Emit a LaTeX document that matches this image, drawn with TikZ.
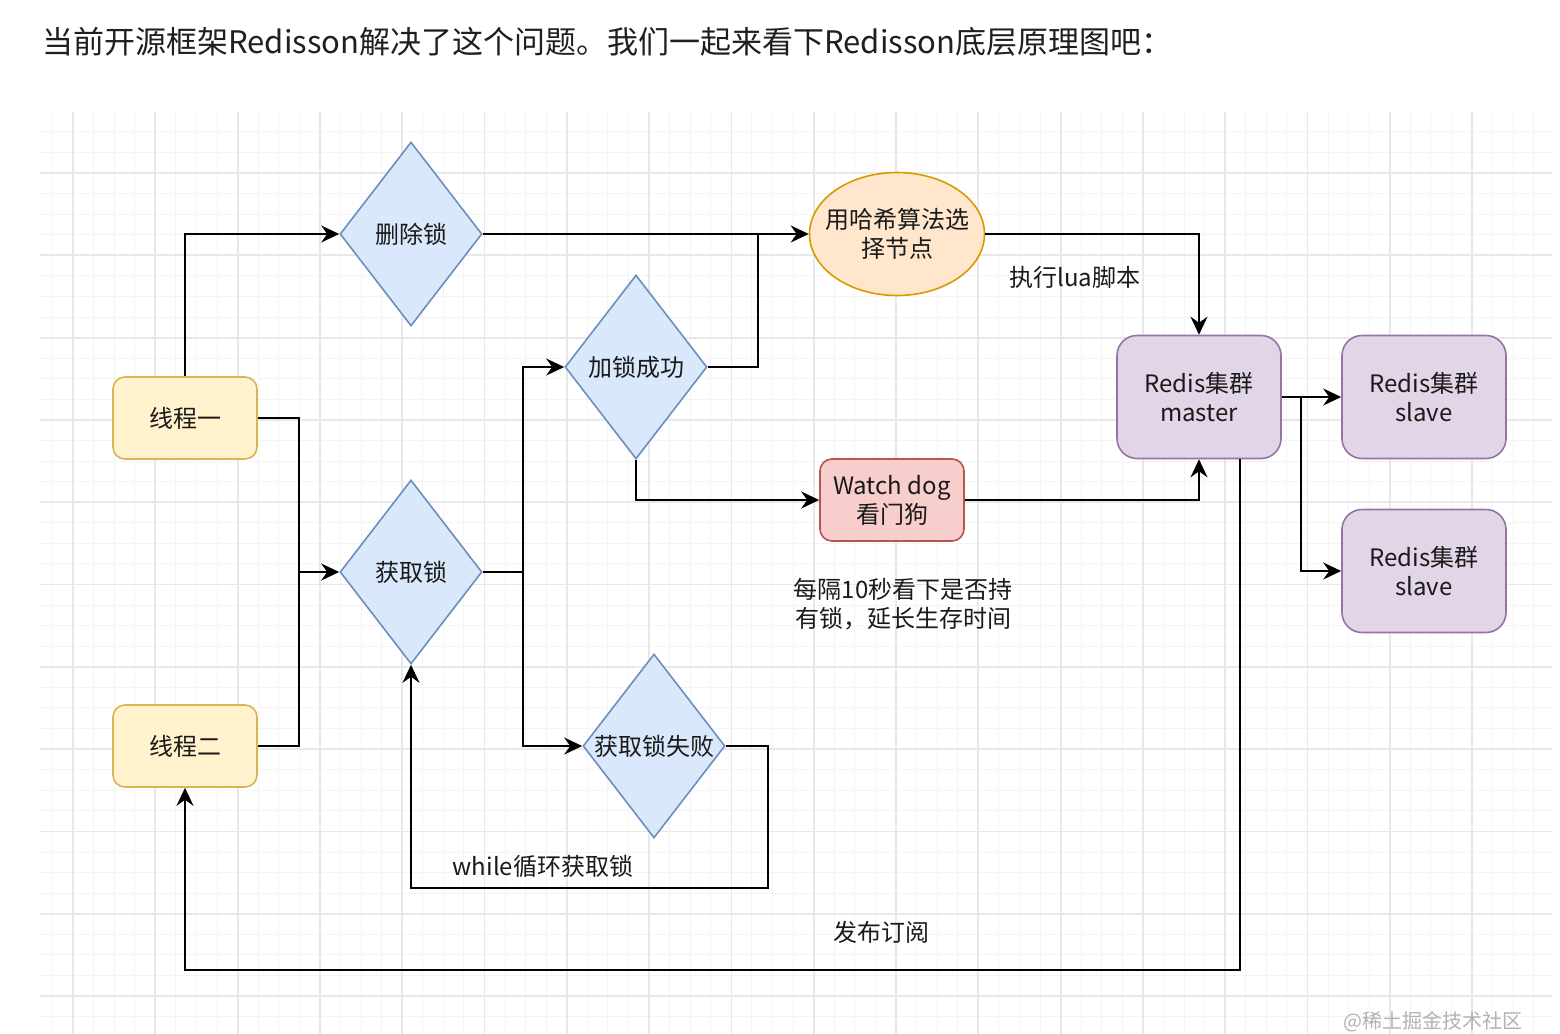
\documentclass[tikz,border=0pt]{standalone}
\usepackage{fontspec}
\setmainfont{Noto Sans CJK SC}
\usetikzlibrary{arrows.meta,shapes.geometric,calc}
\definecolor{yelf}{HTML}{FFF2CC}\definecolor{yeld}{HTML}{D6B656}
\definecolor{bluf}{HTML}{DAE8FC}\definecolor{blud}{HTML}{6C8EBF}
\definecolor{orgf}{HTML}{FFE6CC}\definecolor{orgd}{HTML}{D79B00}
\definecolor{redf}{HTML}{F8CECC}\definecolor{redd}{HTML}{B85450}
\definecolor{purf}{HTML}{E1D5E7}\definecolor{purd}{HTML}{9673A6}
\definecolor{gridminor}{HTML}{F4F4F4}\definecolor{gridmajor}{HTML}{E8E8E8}
\definecolor{txt}{HTML}{1A1A1A}
\begin{document}
\begin{tikzpicture}[x=0.5pt,y=-0.5pt,
  every node/.style={text=txt,font=\fontsize{12}{14.5}\selectfont,align=center},
  every label/.style={text=txt,font=\fontsize{12}{14.5}\selectfont,align=center,inner sep=0pt},
  flow/.style={line width=1pt,draw=black,-{Stealth[length=9pt,width=8.5pt,inset=3pt]}},
  plain/.style={line width=1pt,draw=black},
  threadbox/.style={rectangle,rounded corners=6pt,fill=yelf,draw=yeld,line width=0.8pt,minimum width=72pt,minimum height=41pt,inner sep=0pt},
  decide/.style={diamond,fill=bluf,draw=blud,line width=0.8pt,minimum width=71pt,minimum height=92pt,inner sep=0pt},
  hashnode/.style={ellipse,fill=orgf,draw=orgd,line width=0.8pt,minimum width=87.5pt,minimum height=61.5pt,inner sep=0pt},
  dogbox/.style={rectangle,rounded corners=6pt,fill=redf,draw=redd,line width=0.8pt,minimum width=72pt,minimum height=41pt,inner sep=0pt},
  redisbox/.style={rectangle,rounded corners=10pt,fill=purf,draw=purd,line width=0.8pt,minimum width=82pt,minimum height=61.5pt,inner sep=0pt},
  lbl/.style={inner sep=0pt}
]
\useasboundingbox (0,0) rectangle (1560,1034);
\fill[white] (0,0) rectangle (1560,1034);
% grid
\begin{scope}
\clip (40,112) rectangle (1552,1034);
\foreach \i in {0,...,73} {\draw[gridminor,line width=0.5pt] ({52.4+20.575*\i},112) -- ({52.4+20.575*\i},1034);}
\foreach \i in {0,...,45} {\draw[gridminor,line width=0.5pt] (40,{111.3+20.575*\i}) -- (1552,{111.3+20.575*\i});}
\foreach \j in {0,...,18} {\draw[gridmajor,line width=0.9pt] ({73+82.3*\j},112) -- ({73+82.3*\j},1034);}
\foreach \j in {0,...,11} {\draw[gridmajor,line width=0.9pt] (40,{90.7+82.3*\j}) -- (1552,{90.7+82.3*\j});}
\end{scope}
% title
\node[anchor=west,inner sep=0pt,font=\fontsize{15.5}{18}\selectfont,text=black!88] (title) at (42,42) {当前开源框架Redisson解决了这个问题。我们一起来看下Redisson底层原理图吧：};
% nodes
\node[threadbox] (t1) at (185,418) {线程一};
\node[threadbox] (t2) at (185,746) {线程二};
\node[decide,label=center:删除锁] (d1) at (411,234) {};
\node[decide,label=center:获取锁] (d2) at (411,572) {};
\node[decide,label=center:加锁成功] (d3) at (636,367) {};
\node[decide,label=center:获取锁失败] (d4) at (654,746) {};
\node[hashnode,label=center:{用哈希算法选\\择节点}] (e) at (897,234) {};
\node[dogbox] (w) at (892,500) {Watch dog\\看门狗};
\node[redisbox] (m) at (1199,397) {Redis集群\\master};
\node[redisbox] (s1) at (1424,397) {Redis集群\\slave};
\node[redisbox] (s2) at (1424,571) {Redis集群\\slave};
% junctions
\coordinate (j1) at (758,234);
\coordinate (j2) at (299,572);
\coordinate (j3) at (523,572);
\coordinate (j4) at (768,888);
\coordinate (j5) at (1301,397);
\coordinate (mout) at (1240,459);
\coordinate (j7) at (1240,970);
% connectors
\draw[flow] (t1.north) |- (d1.west);
\draw[flow] (d1.east) -- (e.west);
\draw[plain] (d3.east) -| (j1);
\draw[flow] (e.east) -| (m.north);
\draw[flow] (t1.east) -| (j2) -- (d2.west);
\draw[plain] (t2.east) -| (j2);
\draw[plain] (d2.east) -- (j3);
\draw[flow] (j3) |- (d3.west);
\draw[flow] (j3) |- (d4.west);
\draw[flow] (d4.east) -| (j4) -| (d2.south);
\draw[flow] (d3.south) |- (w.west);
\draw[flow] (w.east) -| (m.south);
\draw[flow] (m.east) -- (s1.west);
\draw[flow] (j5) |- (s2.west);
\draw[flow] (mout) -- (j7) -| (t2.south);
% labels
\node[lbl] (l1) at (1075,277) {执行lua脚本};
\node[lbl] (l2) at (903,604) {每隔10秒看下是否持\\有锁，延长生存时间};
\node[lbl] (l3) at (543,866) {while循环获取锁};
\node[lbl] (l4) at (881,932) {发布订阅};
\node[lbl,font=\fontsize{10}{12}\selectfont,text=black!30] (wm) at (1433,1022) {@稀土掘金技术社区};
\end{tikzpicture}
\end{document}
